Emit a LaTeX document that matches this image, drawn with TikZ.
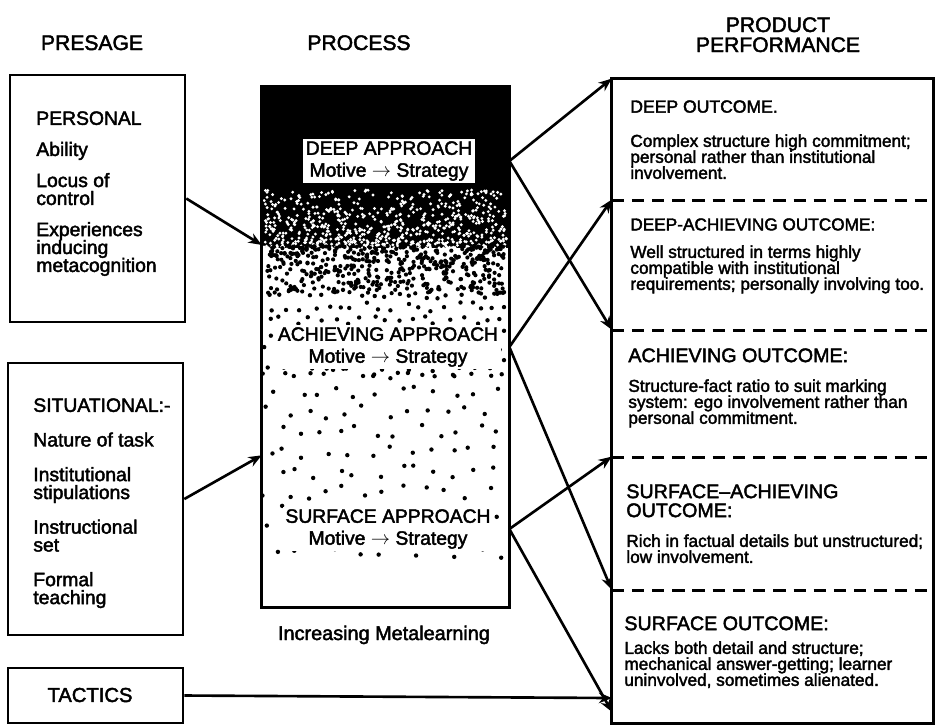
\documentclass[tikz,border=0pt]{standalone}
\usepackage{fontspec}
\setmainfont{Liberation Sans}[RawFeature={embolden=2.2}]
\usepackage{tikz}
\usetikzlibrary{arrows.meta, positioning, calc, fit}
\lineskiplimit=-100pt
\tikzset{
	hdr/.style   ={font=\fontsize{12}{13}\selectfont, inner sep=0pt},
	lbox/.style  ={rectangle, draw=black, line width=1.5pt, inner sep=0pt},
	cell/.style  ={rectangle, inner sep=0pt},
	frame/.style ={draw=black, line width=1.5pt},
	divider/.style={line width=1.5pt, dash pattern=on 7pt off 4.5pt},
	ltxt/.style  ={font=\fontsize{11}{10.2}\selectfont, align=left, inner sep=0pt, anchor=north west},
	apr/.style   ={font=\fontsize{11}{12.5}\selectfont, align=center, fill=white, inner sep=1.5pt},
	% outcome texts
	ohead/.style ={font=\fontsize{10}{11}\selectfont, align=left, inner sep=0pt, anchor=north west},
	obig/.style  ={font=\fontsize{11.2}{10.8}\selectfont, align=left, inner sep=0pt, anchor=north west},
	obody/.style ={font=\fontsize{9.8}{9.1}\selectfont, align=left, inner sep=0pt, anchor=north west},
	link/.style  ={-{Stealth[length=7.5pt, width=6pt]}, line width=1.5pt},
}
\begin{document}
\begin{tikzpicture}[x=0.02cm, y=-0.02cm]
	\useasboundingbox (0,0) rectangle (935,725);
	\node[hdr, anchor=base] (hPres) at (92,50) {PRESAGE};
	\node[hdr, anchor=base] (hProc) at (359,50) {PROCESS};
	\node[hdr, anchor=base] (hProd) at (778,32) {PRODUCT};
	\node[hdr, anchor=base] (hPerf) at (778,52) {PERFORMANCE};
	% presage
	\node[lbox, fit={(10,75) (185,322)}] (pers) {};
	\node[ltxt] (persTxt) at (36,111) {PERSONAL\\[7.5pt]Ability\\[7.5pt]Locus of\\control\\[7.5pt]Experiences\\inducing\\metacognition};
	\node[lbox, fit={(8,363) (183,635)}] (sit) {};
	\node[ltxt] (sitTxt) at (33,398) {SITUATIONAL:-\\[9.5pt]Nature of task\\[9.5pt]Institutional\\stipulations\\[9.5pt]Instructional\\set\\[9.5pt]Formal\\teaching};
	\node[lbox, fit={(8,668) (183,723)}] (tac) {};
	\node[hdr, font=\fontsize{11.5}{12}\selectfont] (tacTxt) at (90,695) {TACTICS};
	% process
	\node[cell, fit={(262,87) (509,607)}] (proc) {};
	\fill (proc.north west) rectangle (509,248);
	\pgfmathsetseed{11}
	\foreach \k in {1,...,700} {
		\pgfmathsetmacro\xx{264+243*rnd}
		\pgfmathsetmacro\yy{248-58*rnd^1.5}
		\fill[white] (\xx,\yy) circle (0.9pt);
	}
	\foreach \k in {1,...,450} {
		\pgfmathsetmacro\xx{266+239*rnd}
		\pgfmathsetmacro\yy{246+48*rnd^1.4}
		\fill (\xx,\yy) circle (1.2pt);
	}
	\foreach \ya/\yb/\sp in {294/372/13, 372/552/20} {
		\pgfmathtruncatemacro\nr{(\yb-\ya)/\sp}
		\pgfmathtruncatemacro\nc{234/\sp}
		\foreach \i in {0,...,\nr} {
			\foreach \j in {0,...,\nc} {
				\pgfmathsetmacro\xx{min(504,268+\j*\sp+mod(\i,2)*\sp/2+0.7*\sp*(rnd-0.5))}
				\pgfmathsetmacro\yy{\ya+\i*\sp+0.7*\sp*(rnd-0.5)}
				\fill (\xx,\yy) circle (1.25pt);
			}
		}
	}
	\draw[frame] (proc.north west) rectangle (proc.south east);
	\node[apr] (deep) at (389,161) {DEEP APPROACH\\Motive $\rightarrow$ Strategy};
	\node[apr] (ach) at (388,347) {ACHIEVING APPROACH\\Motive $\rightarrow$ Strategy};
	\node[apr] (surf) at (388,529) {SURFACE APPROACH\\Motive $\rightarrow$ Strategy};
	\node[hdr, font=\fontsize{11.3}{12}\selectfont, anchor=base] (meta) at (384,640) {Increasing Metalearning};
	% product
	\node[cell, fit={(612,79) (933,200)}] (dout) {};
	\node[cell, fit={(612,200) (933,330)}] (daout) {};
	\node[cell, fit={(612,330) (933,457)}] (aout) {};
	\node[cell, fit={(612,457) (933,590)}] (saout) {};
	\node[cell, fit={(612,590) (933,723)}] (sout) {};
	\draw[frame] (dout.north west) rectangle (sout.south east);
	\foreach \c in {dout,daout,aout,saout}
		\draw[divider] (\c.south west) -- (\c.south east);
	\node[ohead] (doutH) at (630,100) {DEEP OUTCOME.};
	\node[obody] (doutB) at (630,134) {Complex structure high commitment;\\personal rather than institutional\\involvement.};
	\node[ohead, font=\fontsize{9.8}{11}\selectfont] (daoutH) at (630,218) {DEEP-ACHIEVING OUTCOME:};
	\node[obody] (daoutB) at (630,245) {Well structured in terms highly\\compatible with institutional\\requirements; personally involving too.};
	\node[obig] (aoutH) at (628,348) {ACHIEVING OUTCOME:};
	\node[obody] (aoutB) at (628,379) {Structure-fact ratio to suit marking\\system: ego involvement rather than\\personal commitment.};
	\node[obig] (saoutH) at (626,484) {SURFACE--ACHIEVING\\OUTCOME:};
	\node[obody] (saoutB) at (626,534) {Rich in factual details but unstructured;\\low involvement.};
	\node[obig] (soutH) at (624,616) {SURFACE OUTCOME:};
	\node[obody] (soutB) at (624,641) {Lacks both detail and structure;\\mechanical answer-getting; learner\\uninvolved, sometimes alienated.};
	% links
	\coordinate (tacIn) at (612,698);
	\coordinate (surfIn) at (612,712);
	\draw[link] (pers.east) -- ($(proc.north west)!0.304!(proc.south west)$);
	\draw[link] (sit.east) -- ($(proc.north west)!0.708!(proc.south west)$);
	\draw[link] (tac.east) -- (tacIn);
	\draw[link] (proc.east |- deep) -- (dout.north west);
	\draw[link] (proc.east |- deep) -- (aout.north west);
	\draw[link] (proc.east |- ach) -- (daout.north west);
	\draw[link] (proc.east |- ach) -- (sout.north west);
	\draw[link] (proc.east |- surf) -- (saout.north west);
	\draw[link] (proc.east |- surf) -- (surfIn);
\end{tikzpicture}
\end{document}
